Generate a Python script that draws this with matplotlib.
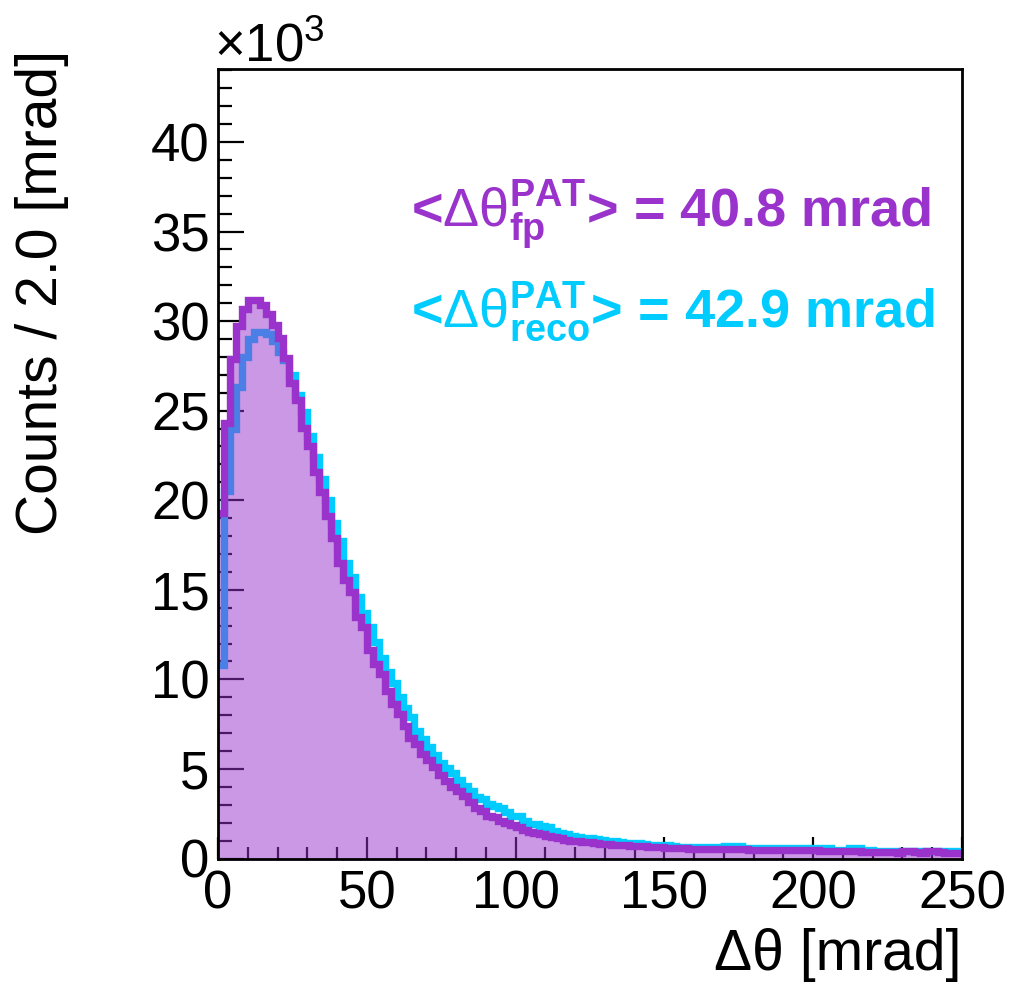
import numpy as np
import matplotlib.pyplot as plt
from matplotlib.ticker import MultipleLocator, FuncFormatter

plt.rcParams['font.family'] = ['Liberation Sans', 'DejaVu Sans']
plt.rcParams['mathtext.fontset'] = 'custom'
plt.rcParams['mathtext.rm'] = 'Liberation Sans'
plt.rcParams['mathtext.it'] = 'Liberation Sans:italic'
plt.rcParams['mathtext.bf'] = 'Liberation Sans:bold'

# binning: 2.0 mrad bins from 0 to 250 mrad
bin_width = 2.0
x_min, x_max = 0.0, 250.0

# counts per bin, in units of 10^3
fp_counts = [
    19.3, 24.3, 27.9, 29.7, 30.7, 31.2, 31.2, 30.9, 30.4, 29.8,
    29.05, 27.95, 26.55, 25.6, 24.05, 23.0, 21.6, 20.45, 19.1, 17.9,
    16.5, 15.55, 14.85, 13.5, 12.9, 11.65, 10.85, 10.3, 9.35, 8.65,
    8.05, 7.4, 6.75, 6.4, 5.85, 5.5, 5.1, 4.65, 4.3, 4.0,
    3.75, 3.5, 3.15, 2.8, 2.65, 2.4, 2.3, 2.1, 2.0, 1.85,
    1.75, 1.6, 1.5, 1.42, 1.35, 1.25, 1.2, 1.12, 1.05, 1.0,
    0.95, 0.92, 0.9, 0.86, 0.83, 0.8, 0.78, 0.76, 0.74, 0.72,
    0.71, 0.67, 0.65, 0.63, 0.62, 0.58, 0.57, 0.56, 0.56, 0.55,
    0.55, 0.54, 0.54, 0.53, 0.53, 0.52, 0.52, 0.51, 0.51, 0.50,
    0.50, 0.50, 0.49, 0.49, 0.49, 0.48, 0.48, 0.48, 0.47, 0.47,
    0.45, 0.44, 0.44, 0.40, 0.40, 0.40, 0.44, 0.44, 0.36, 0.35,
    0.35, 0.34, 0.34, 0.34, 0.33, 0.40, 0.40, 0.34, 0.33, 0.40,
    0.40, 0.34, 0.33, 0.33, 0.33,
]
reco_counts = [
    10.8, 20.5, 24.0, 26.3, 28.0, 29.0, 29.4, 29.4, 29.3, 28.9,
    28.3, 27.8, 27.0, 25.9, 24.9, 23.6, 22.4, 21.2, 20.0, 18.75,
    17.7, 16.5, 15.7, 14.6, 13.7, 12.9, 12.1, 11.2, 10.4, 9.8,
    9.0, 8.4, 7.9, 7.1, 6.65, 6.2, 5.75, 5.35, 5.05, 4.75,
    4.4, 4.05, 3.75, 3.45, 3.3, 3.05, 2.95, 2.8, 2.6, 2.4,
    2.35, 2.1, 1.95, 1.9, 1.8, 1.75, 1.55, 1.45, 1.38, 1.28,
    1.2, 1.15, 1.12, 1.08, 1.05, 1.0, 0.96, 0.93, 0.88, 0.86,
    0.84, 0.82, 0.76, 0.74, 0.74, 0.73, 0.72, 0.66, 0.65, 0.65,
    0.65, 0.64, 0.64, 0.64, 0.63, 0.68, 0.68, 0.68, 0.60, 0.58,
    0.58, 0.58, 0.57, 0.57, 0.57, 0.56, 0.56, 0.56, 0.56, 0.55,
    0.56, 0.56, 0.56, 0.46, 0.46, 0.46, 0.56, 0.56, 0.45, 0.45,
    0.42, 0.42, 0.42, 0.42, 0.42, 0.42, 0.42, 0.42, 0.42, 0.42,
    0.42, 0.42, 0.42, 0.42, 0.42,
]

fp_mean = 40.8
reco_mean = 42.9

purple = '#9933CC'
cyan = '#00CCFF'

edges = np.arange(x_min, x_max + bin_width / 2, bin_width)

fig = plt.figure(figsize=(10.10, 9.85), dpi=100)
ax = fig.add_axes([218 / 1010, 1 - 858.5 / 985, (962 - 218) / 1010, (858.5 - 68.5) / 985])

# reco outline underneath, fp fill (semi transparent like the ROOT pattern) and outline on top
ax.stairs(reco_counts, edges, baseline=None, color=cyan, linewidth=5.3, joinstyle='miter', zorder=2)
ax.stairs(fp_counts, edges, baseline=0, fill=True, facecolor=purple, alpha=0.5,
          linewidth=0, zorder=3)
ax.stairs(fp_counts, edges, baseline=None, color=purple, linewidth=5.3, joinstyle='miter', zorder=4)

ax.set_xlim(x_min, x_max)
ax.set_ylim(0, 44.1)

ax.xaxis.set_major_locator(MultipleLocator(50))
ax.xaxis.set_minor_locator(MultipleLocator(10))
ax.yaxis.set_major_locator(MultipleLocator(5))
ax.yaxis.set_minor_locator(MultipleLocator(1))
ax.yaxis.set_major_formatter(FuncFormatter(lambda v, p: f'{v:g}'))

ax.tick_params(which='both', direction='in', top=False, right=False, width=1.6, color='black')
ax.tick_params(axis='y', which='major', length=19, labelsize=38, pad=6)
ax.tick_params(axis='y', which='minor', length=10)
ax.tick_params(axis='x', which='major', length=16, labelsize=38, pad=8)
ax.tick_params(axis='x', which='minor', length=9)
ax.set_axisbelow(True)

for sp in ax.spines.values():
    sp.set_linewidth(2)
    sp.set_zorder(5)

fig.text(214 / 1010, 1 - 62 / 985, r'$\times$10$^{3}$', fontsize=38, ha='left', va='baseline')

fig.text(15 / 1010, 1 - 50 / 985, 'Counts / 2.0 [mrad]', fontsize=41, rotation=90,
         ha='left', va='top')
fig.text(962 / 1010, 1 - 970 / 985, 'Δθ [mrad]', fontsize=41, ha='right', va='baseline')

fig.text(411 / 1010, 1 - 227 / 985,
         r'<$\Delta\mathrm{\theta}^{\mathbf{PAT}}_{\mathbf{fp}}$> = ' + f'{fp_mean:.1f} mrad',
         fontsize=39, fontweight='bold', color=purple, ha='left', va='baseline')
fig.text(411 / 1010, 1 - 327 / 985,
         r'<$\Delta\mathrm{\theta}^{\mathbf{PAT}}_{\mathbf{reco}}$> = ' + f'{reco_mean:.1f} mrad',
         fontsize=39, fontweight='bold', color=cyan, ha='left', va='baseline')

fig.savefig('out.png', dpi=100)
